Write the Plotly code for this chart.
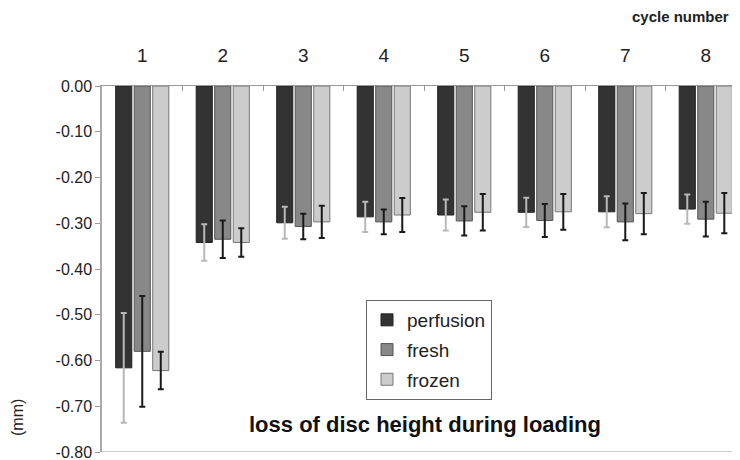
import plotly.graph_objects as go

cycles = ["1", "2", "3", "4", "5", "6", "7", "8"]
series_names = ["perfusion", "fresh", "frozen"]

perfusion = [-0.616, -0.342, -0.299, -0.286, -0.282, -0.276, -0.275, -0.269]
perfusion_err = [0.120, 0.040, 0.035, 0.033, 0.034, 0.032, 0.034, 0.032]

fresh = [-0.580, -0.335, -0.307, -0.297, -0.295, -0.294, -0.297, -0.291]
fresh_err = [0.121, 0.041, 0.028, 0.027, 0.032, 0.036, 0.040, 0.038]

frozen = [-0.622, -0.342, -0.297, -0.282, -0.276, -0.275, -0.279, -0.278]
frozen_err = [0.041, 0.031, 0.035, 0.037, 0.040, 0.039, 0.045, 0.044]

y_tickvals = [0.0, -0.1, -0.2, -0.3, -0.4, -0.5, -0.6, -0.7, -0.8]
y_ticktext = ["0.00", "-0.10", "-0.20", "-0.30", "-0.40", "-0.50", "-0.60", "-0.70", "-0.80"]

FONT = "Liberation Sans, Arial, sans-serif"

fills = ["#333333", "#888888", "#cccccc"]
edges = ["#222222", "#555555", "#777777"]
err_colors = ["#b8b8b8", "#1a1a1a", "#1a1a1a"]

fig = go.Figure()
for name, vals, errs, fc, ec, erc in zip(
    series_names,
    [perfusion, fresh, frozen],
    [perfusion_err, fresh_err, frozen_err],
    fills, edges, err_colors,
):
    fig.add_trace(go.Bar(
        x=cycles, y=vals, name=name, legendgroup=name,
        marker=dict(color=fc, line=dict(color=ec, width=1)),
        error_y=dict(type="data", array=errs, visible=True,
                     color=erc, thickness=2, width=3),
    ))

# the page body has an 8px margin, so the layout is shifted up/left by 8px
fig.update_layout(
    width=740, height=460,
    margin=dict(l=94, r=8, t=78, b=16, autoexpand=False),
    paper_bgcolor="white", plot_bgcolor="white",
    barmode="group", bargap=0.31, bargroupgap=0.13,
    font=dict(family=FONT, color="#222222"),
    showlegend=True,
    legend=dict(
        x=(366 - 102) / 638, y=(452 - 300) / 366, xanchor="left", yanchor="top",
        bordercolor="#666666", borderwidth=1, bgcolor="white",
        font=dict(size=19, family=FONT, color="#222222"),
        tracegroupgap=2, itemwidth=30,
    ),
    xaxis=dict(
        type="category", side="top", range=[-0.5, 7.425], automargin=False,
        showline=True, linecolor="#999999", linewidth=1,
        ticks="inside", tickson="boundaries", ticklen=5, tickcolor="#999999",
        tickfont=dict(size=19, family=FONT, color="#222222"),
        ticklabelstandoff=15, showgrid=False, zeroline=False,
    ),
    yaxis=dict(
        range=[-0.8, 0.0], tickvals=y_tickvals, ticktext=y_ticktext, automargin=False,
        showline=True, linecolor="#aaaaaa", linewidth=1.5,
        ticks="outside", ticklen=5, tickcolor="#999999",
        tickfont=dict(size=16, family=FONT, color="#222222"),
        showgrid=False, zeroline=False,
    ),
    shapes=[dict(type="line", xref="paper", yref="y", x0=0, x1=1, y0=-0.8, y1=-0.8,
                 line=dict(color="#cccccc", width=2))],
    annotations=[
        dict(text="<b>cycle number</b>", xref="paper", yref="paper",
             x=(731 - 102) / 638, y=1.0, xanchor="right", yanchor="middle",
             yshift=70, showarrow=False,
             font=dict(size=15, family=FONT, color="#222222")),
        dict(text="<b>loss of disc height during loading</b>", xref="paper", yref="paper",
             x=(425 - 102) / 638, y=(452 - 424) / 366, xanchor="center", yanchor="middle",
             showarrow=False, font=dict(size=22, family=FONT, color="#111111")),
        dict(text="(mm)", xref="paper", yref="paper", textangle=-90,
             x=0, y=(452 - 418) / 366, xanchor="center", yanchor="middle",
             xshift=-85, showarrow=False,
             font=dict(size=16, family=FONT, color="#222222")),
    ],
)

fig.write_html("out.html")
